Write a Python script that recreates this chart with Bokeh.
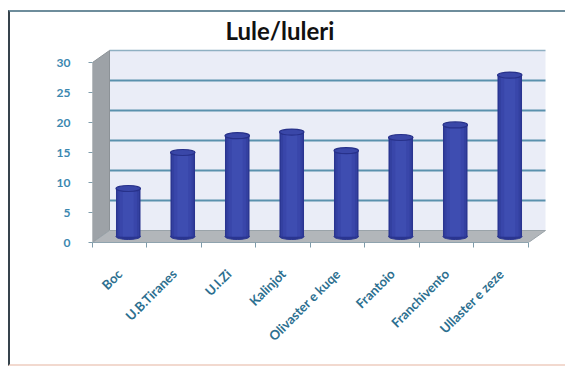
import numpy as np
from math import pi
from bokeh.plotting import figure
from bokeh.models import FixedTicker, Range1d, InlineStyleSheet
from bokeh.embed import file_html
from bokeh.resources import INLINE

# Flowers per olive cultivar
categories = ["Boc", "U.B.Tiranes", "U.I.Zi", "Kalinjot", "Olivaster e kuqe",
              "Frantoio", "Franchivento", "Ullaster e zeze"]
values = [8.0, 14.0, 16.8, 17.4, 14.3, 16.5, 18.6, 26.9]
y_ticks = [0, 5, 10, 15, 20, 25, 30]
title_text = "Lule/luleri"

# pseudo-3D depth offsets (x in category units, y in value units)
DX = 0.312
DY = 2.0
n = len(categories)
x0, x1 = -0.5, n - 0.5
ymax = y_ticks[-1]

p = figure(width=565, height=372, output_backend="svg", toolbar_location=None,
           x_range=Range1d(-0.5, 7.867), y_range=Range1d(0, 32.5),
           min_border_left=92, min_border_right=17, min_border_top=47,
           min_border_bottom=130)
p.background_fill_color = "white"
p.border_fill_color = "white"
p.outline_line_color = None
p.xgrid.visible = False
p.ygrid.visible = False

# back wall
p.quad(left=[x0 + DX], right=[x1 + DX], bottom=[DY], top=[ymax + DY],
       fill_color="#eaedf7", line_color=None)
# gridlines on back wall
grid_vals = [t + DY for t in y_ticks[1:-1]]
p.segment(x0=[x0 + DX] * len(grid_vals), x1=[x1 + DX] * len(grid_vals),
          y0=grid_vals, y1=grid_vals, line_color="#5a91ad", line_width=2)
p.segment(x0=[x0 + DX], x1=[x1 + DX], y0=[ymax + DY], y1=[ymax + DY],
          line_color="#8fb0c2", line_width=1.5)

# side wall
p.patch(x=[x0, x0 + DX, x0 + DX, x0], y=[0, DY, ymax + DY, ymax],
        fill_color="#9da2a7", line_color="#8c9297", line_width=1)
# floor
p.patch(x=[x0, x1, x1 + DX, x0 + DX], y=[0, 0, DY, DY],
        fill_color="#b2b6ba", line_color="#9aa3a9", line_width=1)

# cylinders at mid depth
xc = np.arange(n) + DX / 2
base = np.full(n, DY / 2)
tops = np.array(values) + DY / 2
bw = 0.45
p.ellipse(x=xc, y=base, width=bw, height=1.0, fill_color="#2a3590", line_color="#2a3590")
for w, c in [(bw, "#2a3590"), (0.40, "#3340a0"), (0.32, "#3946aa"), (0.20, "#3e4db1")]:
    p.vbar(x=xc, bottom=base, top=tops, width=w, fill_color=c, line_color=None)
p.ellipse(x=xc, y=tops, width=bw, height=1.0, fill_color="#3a47a8",
          line_color="#27318a", line_width=1.2)

# y axis
ya = p.yaxis[0]
ya.ticker = FixedTicker(ticks=y_ticks)
ya.bounds = (0, ymax)
ya.axis_line_color = None
ya.major_tick_out = 4
ya.major_tick_in = 0
ya.minor_tick_line_color = None
ya.major_tick_line_color = "#7f9cab"
ya.major_label_standoff = 18
ya.major_label_text_font = "Lato"
ya.major_label_text_font_size = "12px"
ya.major_label_text_font_style = "bold"
ya.major_label_text_color = "#3b88b0"

# x axis: labels at centres, tick marks at category boundaries
xa = p.xaxis[0]
xa.ticker = FixedTicker(ticks=list(range(n)), minor_ticks=[i - 0.5 for i in range(n + 1)])
xa.bounds = (x0, x1)
xa.axis_line_color = "#8fa3ae"
xa.major_tick_out = 0
xa.major_tick_in = 0
xa.minor_tick_out = 5
xa.minor_tick_in = 0
xa.minor_tick_line_color = "#7f9cab"
xa.major_label_overrides = {i: c for i, c in enumerate(categories)}
xa.major_label_orientation = pi / 4
xa.major_label_standoff = 24
xa.major_label_text_font = "Lato"
xa.major_label_text_font_size = "13px"
xa.major_label_text_font_style = "bold"
xa.major_label_text_color = "#2c6f8f"

# title
p.title.text = title_text
p.title.align = "left"
p.title.offset = 133
p.title.text_font = "Lato"
p.title.text_font_size = "24px"
p.title.text_font_style = "bold"
p.title.text_color = "#111111"
p.title.standoff = 6

# chart area border
p.stylesheets = [InlineStyleSheet(css="""
:host::after {
  content: ""; position: absolute; left: 8px; top: 10px; right: 0; bottom: 6px;
  border-left: 2px solid #36434c; border-top: 2px solid #6e8d9c;
  border-bottom: 2px solid #f2d9cf; pointer-events: none;
}
""")]

open("out.html", "w").write(file_html(p, INLINE))
